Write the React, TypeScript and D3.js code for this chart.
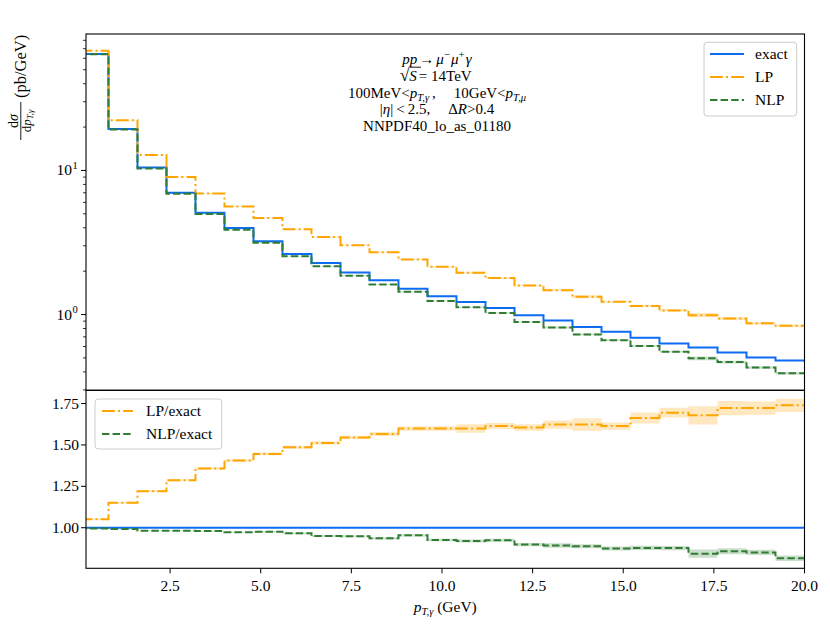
import * as d3 from "d3";

// bin edges of p_T,gamma (GeV)
const binEdges = [
  0, 0.8, 1.6, 2.4, 3.2, 4.0, 4.8, 5.6, 6.4, 7.2, 8.0, 8.8, 9.6, 10.4, 11.2,
  12.0, 12.8, 13.6, 14.4, 15.2, 16.0, 16.8, 17.6, 18.4, 19.2, 20.0,
];

// exact cross section per bin (pb/GeV)
const exact = [
  64.4, 19.36, 10.49, 7.01, 5.09, 3.99, 3.23, 2.63, 2.28, 1.96, 1.73, 1.51,
  1.34, 1.22, 1.11, 0.99, 0.91, 0.82, 0.76, 0.69, 0.63, 0.59, 0.545, 0.504,
  0.48,
];

// LP / exact and NLP / exact
const lpRatio = [
  1.051, 1.151, 1.221, 1.287, 1.358, 1.406, 1.446, 1.486, 1.512, 1.545, 1.566,
  1.599, 1.599, 1.599, 1.615, 1.605, 1.623, 1.623, 1.614, 1.663, 1.695, 1.679,
  1.723, 1.723, 1.739,
];
const nlpRatio = [
  0.996, 0.992, 0.982, 0.982, 0.98, 0.972, 0.976, 0.966, 0.95, 0.948, 0.936,
  0.954, 0.926, 0.92, 0.924, 0.898, 0.893, 0.888, 0.874, 0.878, 0.877, 0.843,
  0.858, 0.851, 0.816,
];

// uncertainty on the ratios
const lpErr = [
  0.004, 0.004, 0.005, 0.006, 0.007, 0.007, 0.008, 0.009, 0.01, 0.011, 0.012,
  0.013, 0.014, 0.026, 0.018, 0.02, 0.025, 0.038, 0.022, 0.033, 0.03, 0.055,
  0.043, 0.04, 0.04,
];
const nlpErr = [
  0.002, 0.002, 0.003, 0.003, 0.004, 0.004, 0.005, 0.005, 0.006, 0.006, 0.007,
  0.007, 0.008, 0.009, 0.009, 0.01, 0.014, 0.012, 0.012, 0.013, 0.013, 0.025,
  0.018, 0.016, 0.017,
];

const xTicks = [2.5, 5.0, 7.5, 10.0, 12.5, 15.0, 17.5, 20.0];
const ratioTicks = [1.0, 1.25, 1.5, 1.75];
const logMajor = [1, 10];

const W = 830;
const H = 629;
const left = 86;
const right = 804.5;
const top = 34;
const mid = 390.3;
const bottom = 568.3;

const BLUE = "#0d6cf2";
const ORANGE = "#ffa500";
const GREEN = "#2f7d32";
const FONT = "'Liberation Serif', 'DejaVu Serif', serif";

const lpDash = "12.8 3.2 2 3.2";
const nlpDash = "7.4 3.2";

export default function App() {
  const x = d3.scaleLinear().domain([0.18, 20]).range([left, right]);
  const yTop = d3.scaleLog().domain([0.298, 88.5]).range([mid, top]);
  const yBot = d3.scaleLinear().domain([0.755, 1.83]).range([bottom, mid]);

  const val = (arr: number[], i: number) => arr[Math.min(i, arr.length - 1)];

  const stepLine = (vals: number[], y: (v: number) => number) =>
    d3
      .line<number>()
      .curve(d3.curveStepAfter)
      .x((e) => x(e))
      .y((_, i) => y(val(vals, i)))(binEdges) ?? "";

  const stepBand = (
    lo: number[],
    hi: number[],
    y: (v: number) => number
  ) =>
    d3
      .area<number>()
      .curve(d3.curveStepAfter)
      .x((e) => x(e))
      .y0((_, i) => y(val(lo, i)))
      .y1((_, i) => y(val(hi, i)))(binEdges) ?? "";

  const lp = exact.map((v, i) => v * lpRatio[i]);
  const nlp = exact.map((v, i) => v * nlpRatio[i]);
  const lpLo = exact.map((v, i) => v * (lpRatio[i] - lpErr[i]));
  const lpHi = exact.map((v, i) => v * (lpRatio[i] + lpErr[i]));
  const nlpLo = exact.map((v, i) => v * (nlpRatio[i] - nlpErr[i]));
  const nlpHi = exact.map((v, i) => v * (nlpRatio[i] + nlpErr[i]));
  const ones = exact.map(() => 1);

  const minorTicks: number[] = [];
  [0.1, 1, 10].forEach((d) => {
    for (let k = 2; k <= 9; k++) {
      const v = d * k;
      if (v >= 0.298 && v <= 88.5) minorTicks.push(v);
    }
  });

  return (
    <svg
      width={W}
      height={H}
      style={{ position: "absolute", left: 0, top: 0, background: "#fff" }}
      fontFamily={FONT}
    >
      <defs>
        <clipPath id="clipTop">
          <rect x={left} y={top} width={right - left} height={mid - top} />
        </clipPath>
        <clipPath id="clipBot">
          <rect x={left} y={mid} width={right - left} height={bottom - mid} />
        </clipPath>
      </defs>
      <rect x={0} y={0} width={W} height={H} fill="#fff" />

      {/* top panel */}
      <g clipPath="url(#clipTop)">
        <path d={stepBand(lpLo, lpHi, yTop)} fill={ORANGE} opacity={0.25} />
        <path d={stepBand(nlpLo, nlpHi, yTop)} fill={GREEN} opacity={0.25} />
        <path d={stepLine(exact, yTop)} fill="none" stroke={BLUE} strokeWidth={2} />
        <path
          d={stepLine(lp, yTop)}
          fill="none"
          stroke={ORANGE}
          strokeWidth={2}
          strokeDasharray={lpDash}
        />
        <path
          d={stepLine(nlp, yTop)}
          fill="none"
          stroke={GREEN}
          strokeWidth={2}
          strokeDasharray={nlpDash}
        />
      </g>

      {/* bottom panel */}
      <g clipPath="url(#clipBot)">
        <path
          d={stepBand(
            lpRatio.map((r, i) => r - lpErr[i]),
            lpRatio.map((r, i) => r + lpErr[i]),
            yBot
          )}
          fill={ORANGE}
          opacity={0.25}
        />
        <path
          d={stepBand(
            nlpRatio.map((r, i) => r - nlpErr[i]),
            nlpRatio.map((r, i) => r + nlpErr[i]),
            yBot
          )}
          fill={GREEN}
          opacity={0.25}
        />
        <path d={stepLine(ones, yBot)} fill="none" stroke={BLUE} strokeWidth={2} />
        <path
          d={stepLine(lpRatio, yBot)}
          fill="none"
          stroke={ORANGE}
          strokeWidth={2}
          strokeDasharray={lpDash}
        />
        <path
          d={stepLine(nlpRatio, yBot)}
          fill="none"
          stroke={GREEN}
          strokeWidth={2}
          strokeDasharray={nlpDash}
        />
      </g>

      {/* frames */}
      <rect x={left} y={top} width={right - left} height={mid - top} fill="none" stroke="#000" strokeWidth={1.1} />
      <rect x={left} y={mid} width={right - left} height={bottom - mid} fill="none" stroke="#000" strokeWidth={1.1} />

      {/* top y axis */}
      {logMajor.map((v) => (
        <g key={v}>
          <line x1={left - 5} x2={left} y1={yTop(v)} y2={yTop(v)} stroke="#000" />
          <text x={left - 14} y={yTop(v) + 5} fontSize={15.5} textAnchor="end">
            10
          </text>
          <text x={left - 13.5} y={yTop(v) - 1.5} fontSize={10.5} textAnchor="start">
            {v === 1 ? "0" : "1"}
          </text>
        </g>
      ))}
      {minorTicks.map((v) => (
        <line key={v} x1={left - 3} x2={left} y1={yTop(v)} y2={yTop(v)} stroke="#000" strokeWidth={0.8} />
      ))}

      {/* bottom y axis */}
      {ratioTicks.map((v) => (
        <g key={v}>
          <line x1={left - 5} x2={left} y1={yBot(v)} y2={yBot(v)} stroke="#000" />
          <text x={left - 7} y={yBot(v) + 5} fontSize={15.5} textAnchor="end">
            {v.toFixed(2)}
          </text>
        </g>
      ))}

      {/* x axis */}
      {xTicks.map((v) => (
        <g key={v}>
          <line x1={x(v)} x2={x(v)} y1={bottom} y2={bottom + 5} stroke="#000" />
          <text x={x(v)} y={bottom + 23} fontSize={15.5} textAnchor="middle">
            {v.toFixed(1)}
          </text>
        </g>
      ))}
      <text x={(left + right) / 2} y={612} fontSize={15.5} textAnchor="middle">
        <tspan fontStyle="italic">p</tspan>
        <tspan fontStyle="italic" fontSize={10.5} dy={3}>
          T,γ
        </tspan>
        <tspan dy={-3}> (GeV)</tspan>
      </text>

      {/* y label */}
      <g transform="translate(20,141) rotate(-90)">
        <text x={20} y={-2} fontSize={14} textAnchor="middle">
          d<tspan fontStyle="italic">σ</tspan>
        </text>
        <line x1={1} x2={39} y1={0.8} y2={0.8} stroke="#000" strokeWidth={0.9} />
        <text x={20} y={11} fontSize={13} textAnchor="middle">
          d<tspan fontStyle="italic">p</tspan>
          <tspan fontStyle="italic" fontSize={8.5} dy={2}>
            T,γ
          </tspan>
        </text>
        <text x={43} y={6} fontSize={16.5} textAnchor="start">
          (pb/GeV)
        </text>
      </g>

      {/* annotation */}
      <g fontSize={15}>
        <text x={437} y={64} textAnchor="middle">
          <tspan fontStyle="italic">pp</tspan>
          <tspan dx={2}>→</tspan>
          <tspan fontStyle="italic" dx={2}>μ</tspan>
          <tspan fontSize={11} dy={-6}>−</tspan>
          <tspan fontStyle="italic" dy={6} dx={1}>μ</tspan>
          <tspan fontSize={11} dy={-6}>+</tspan>
          <tspan fontStyle="italic" dy={6} dx={1}>γ</tspan>
        </text>
        <text x={400} y={81} textAnchor="start">
          <tspan fontSize={17}>√</tspan>
          <tspan fontStyle="italic">S</tspan>
          <tspan dx={2}>= 14TeV</tspan>
        </text>
        <line x1={409.5} x2={421} y1={67.2} y2={67.2} stroke="#000" strokeWidth={0.9} />
        <text x={437} y={97.5} textAnchor="middle">
          <tspan>100MeV&lt;</tspan>
          <tspan fontStyle="italic">p</tspan>
          <tspan fontStyle="italic" fontSize={10.5} dy={3}>T,γ</tspan>
          <tspan dy={-3} dx={3}>,</tspan>
          <tspan dx={18}>10GeV&lt;</tspan>
          <tspan fontStyle="italic">p</tspan>
          <tspan fontStyle="italic" fontSize={10.5} dy={3}>T,μ</tspan>
        </text>
        <text x={437} y={114} textAnchor="middle">
          <tspan>|</tspan>
          <tspan fontStyle="italic">η</tspan>
          <tspan>|</tspan>
          <tspan dx={3}>&lt;</tspan>
          <tspan dx={3}>2.5,</tspan>
          <tspan dx={18}>Δ</tspan>
          <tspan fontStyle="italic">R</tspan>
          <tspan>&gt;0.4</tspan>
        </text>
        <text x={437} y={130.5} textAnchor="middle">
          NNPDF40_lo_as_01180
        </text>
      </g>

      {/* top legend */}
      <g>
        <rect x={704} y={42.3} width={92.7} height={73.7} rx={3} fill="#fff" fillOpacity={0.8} stroke="#ccc" />
        {[
          { label: "exact", color: BLUE, dash: undefined, yy: 54 },
          { label: "LP", color: ORANGE, dash: lpDash, yy: 77 },
          { label: "NLP", color: GREEN, dash: nlpDash, yy: 100 },
        ].map((d) => (
          <g key={d.label}>
            <line x1={710} x2={744} y1={d.yy} y2={d.yy} stroke={d.color} strokeWidth={2} strokeDasharray={d.dash} />
            <text x={755} y={d.yy + 5} fontSize={15.5}>
              {d.label}
            </text>
          </g>
        ))}
      </g>

      {/* bottom legend */}
      <g>
        <rect x={95} y={399} width={126.7} height={50} rx={3} fill="#fff" fillOpacity={0.8} stroke="#ccc" />
        {[
          { label: "LP/exact", color: ORANGE, dash: lpDash, yy: 411 },
          { label: "NLP/exact", color: GREEN, dash: nlpDash, yy: 434 },
        ].map((d) => (
          <g key={d.label}>
            <line x1={102} x2={133} y1={d.yy} y2={d.yy} stroke={d.color} strokeWidth={2} strokeDasharray={d.dash} />
            <text x={146} y={d.yy + 5} fontSize={15.5}>
              {d.label}
            </text>
          </g>
        ))}
      </g>
    </svg>
  );
}
